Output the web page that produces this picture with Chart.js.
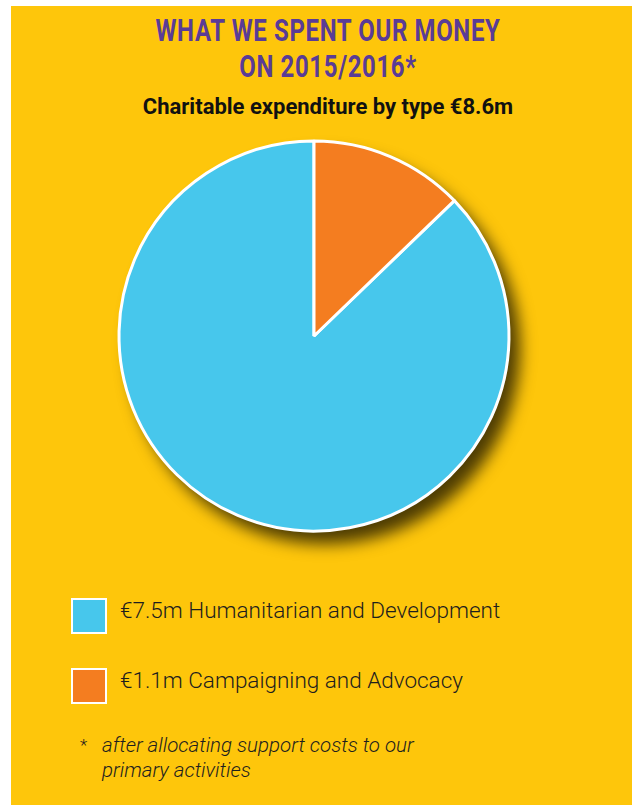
<!DOCTYPE html>
<html>
<head>
<meta charset="utf-8">
<script src="https://cdn.jsdelivr.net/npm/chart.js@4"></script>
<style>
  html, body { margin: 0; padding: 0; background: #ffffff; }
  body { width: 632px; height: 805px; position: relative; overflow: hidden; }
  #panel { position: absolute; left: 11px; top: 6px; right: 0; bottom: 0; background: #FEC60B; }
  .center { position: absolute; left: 28px; width: 600px; text-align: center; }
  #title { top: 13px; font-family: Roboto, sans-serif; font-weight: bold;
           font-size: 31px; line-height: 36px; color: #5A3C96; letter-spacing: 0.8px;
           transform-origin: 300px 0; }
  #title span { display: inline-block; white-space: nowrap; }
  #subtitle { top: 94px; font-family: Roboto, sans-serif; font-weight: bold; font-size: 22px; color: #111; }
  #pie { position: absolute; left: 84px; top: 106px; }
  .item { position: absolute; left: 71px; height: 36px; display: flex; align-items: center; }
  .box { width: 32px; height: 32px; border: 2px solid #ffffff; margin-right: 13px; }
  .item span { font-family: Roboto, sans-serif; font-weight: 300; font-size: 22.5px; color: #1e1e1e;
               position: relative; top: -6px; }
  #note { position: absolute; left: 80px; top: 733px; font-family: Roboto, sans-serif; font-style: italic;
          font-weight: 300; font-size: 20.5px; line-height: 25px; color: #1e1e1e; }
  #note .star { position: absolute; left: 0; top: 0; font-style: normal; font-size: 17px; }
  #note .txt { margin-left: 22px; }
</style>
</head>
<body>
<div id="panel"></div>
<div id="title" class="center"><span id="t1">WHAT WE SPENT OUR MONEY</span><br><span>ON 2015/2016*</span></div>
<div id="subtitle" class="center"></div>
<canvas id="pie" width="460" height="460"></canvas>
<div id="legend"></div>
<div id="note"><span class="star">*</span><div class="txt">after allocating support costs to our<br>primary activities</div></div>
<script>
// Charitable expenditure 2015/2016, € millions
const categories = ['Humanitarian and Development', 'Campaigning and Advocacy'];
const amounts = [7.5, 1.1];
const sliceColors = ['#47C7EC', '#F47D20'];

const total = amounts.reduce((a, b) => a + b, 0);
document.getElementById('subtitle').textContent =
  'Charitable expenditure by type \u20AC' + total.toFixed(1) + 'm';

// Condensed heading: squeeze the first line to 345px wide
const title = document.getElementById('title');
const w1 = document.getElementById('t1').getBoundingClientRect().width;
title.style.transform = 'scaleX(' + (345 / w1) + ')';

// Legend rows
const legend = document.getElementById('legend');
categories.forEach((name, i) => {
  const row = document.createElement('div');
  row.className = 'item';
  row.style.top = (598 + i * 70) + 'px';
  const box = document.createElement('div');
  box.className = 'box';
  box.style.background = sliceColors[i];
  const label = document.createElement('span');
  label.textContent = '\u20AC' + amounts[i].toFixed(1) + 'm ' + name;
  row.appendChild(box);
  row.appendChild(label);
  legend.appendChild(row);
});

// Soft drop shadow under the whole pie
const pieShadow = {
  id: 'pieShadow',
  beforeDatasetsDraw(chart) {
    const arc = chart.getDatasetMeta(0).data[0];
    if (!arc) return;
    const ctx = chart.ctx;
    ctx.save();
    ctx.shadowColor = 'rgba(0,0,0,0.7)';
    ctx.shadowBlur = 16;
    ctx.shadowOffsetX = 11;
    ctx.shadowOffsetY = 13;
    ctx.beginPath();
    ctx.arc(arc.x, arc.y, arc.outerRadius, 0, Math.PI * 2);
    ctx.fillStyle = sliceColors[0];
    ctx.fill();
    ctx.restore();
  }
};

// Start the first slice where the last one ends, so the smaller slice
// sits clockwise from twelve o'clock.
const startAngle = amounts[amounts.length - 1] / total * 360;

new Chart(document.getElementById('pie'), {
  type: 'pie',
  data: {
    labels: categories,
    datasets: [{
      data: amounts,
      backgroundColor: sliceColors,
      borderColor: '#ffffff',
      borderWidth: 3,
      hoverOffset: 0
    }]
  },
  options: {
    responsive: false,
    animation: false,
    radius: 195,
    rotation: startAngle,
    plugins: {
      legend: { display: false },
      tooltip: { enabled: false }
    },
    events: []
  },
  plugins: [pieShadow]
});
</script>
</body>
</html>
